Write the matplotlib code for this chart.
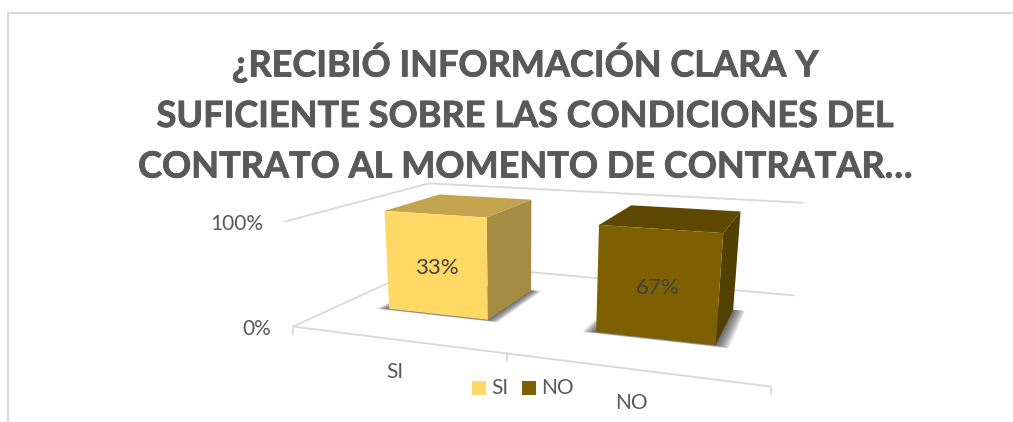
import numpy as np
import matplotlib
matplotlib.use("Agg")
import matplotlib.pyplot as plt
import matplotlib.patheffects as pe
from matplotlib.patches import Polygon, Rectangle

plt.rcParams['font.family'] = ['Lato', 'DejaVu Sans']

title = "¿RECIBIÓ INFORMACIÓN CLARA Y\nSUFICIENTE SOBRE LAS CONDICIONES DEL\nCONTRATO AL MOMENTO DE CONTRATAR…"
categories = ["SI", "NO"]
shares = [33, 67]
bar_heights = [100, 100]
axis_ticks = [0, 100]
front_colors = ["#FFD966", "#7F6000"]
top_colors = ["#C2A54E", "#5E4700"]
side_colors = ["#A68C42", "#524000"]

GRID = "#D9D9D9"
TEXT = "#595959"
BAR_W = 0.25
DEPTH = (0.30, 0.72)

# camera: (category pos, depth, percent) -> pixel, fitted on the chart box corners
box_pts = [(0, 0, 0), (2, 0, 0), (0, 1, 0), (2, 1, 0), (0, 0, 100), (0, 1, 100), (2, 1, 100)]
pix_pts = [(294, 326), (771, 387), (430, 264), (795, 295), (283, 222), (430, 183), (803, 203)]


def fit_camera(box, pix):
    rows = []
    for (u, d, z), (px, py) in zip(box, pix):
        z = z / 100
        rows.append([u, d, z, 1, 0, 0, 0, 0, -px * u, -px * d, -px * z, -px])
        rows.append([0, 0, 0, 0, u, d, z, 1, -py * u, -py * d, -py * z, -py])
    return np.linalg.svd(np.array(rows, dtype=float))[2][-1].reshape(3, 4)


cam = fit_camera(box_pts, pix_pts)


def project(u, d, z=0):
    p = cam @ np.array([u, d, z / 100, 1])
    return p[0] / p[2], p[1] / p[2]


def edge(ax, a, b, lw=1.3):
    ax.plot(*zip(project(*a), project(*b)), color=GRID, lw=lw, zorder=1, solid_capstyle="butt")


def draw_bar(ax, i, height):
    u0, u1 = i + 0.5 - BAR_W, i + 0.5 + BAR_W
    d0, d1 = DEPTH
    # soft shadow on the floor, stacked so it darkens towards the bar
    for grow in np.linspace(0.055, 0.004, 12):
        foot = [project(u0 - grow, d0 - grow * 0.3), project(u1 + grow, d0 - grow * 0.3),
                project(u1 + grow, d1), project(u0 - grow, d1)]
        ax.add_patch(Polygon(foot, closed=True, fc="#303030", ec="none", alpha=0.09, zorder=2))
    top = [project(u0, d0, height), project(u1, d0, height), project(u1, d1, height), project(u0, d1, height)]
    side = [project(u1, d0), project(u1, d1), project(u1, d1, height), project(u1, d0, height)]
    front = [project(u0, d0), project(u1, d0), project(u1, d0, height), project(u0, d0, height)]
    ax.add_patch(Polygon(top, closed=True, fc=top_colors[i], ec="none", zorder=3))
    ax.add_patch(Polygon(side, closed=True, fc=side_colors[i], ec="none", zorder=3))
    ax.add_patch(Polygon(front, closed=True, fc=front_colors[i], ec="none", zorder=4))
    cx, cy = project(i + 0.5, d0, height / 2)
    ax.text(cx + 1, cy + 3, f"{shares[i]}%", ha="center", va="center", fontsize=16, color="#404040", zorder=5)


fig = plt.figure(figsize=(10.13, 4.22), dpi=100)
ax = fig.add_axes([0, 0, 1, 1])
ax.set_xlim(0, 1013)
ax.set_ylim(422, 0)
ax.axis("off")

# chart frame, only left and top are inside the crop
ax.plot([8, 8, 1013], [422, 13, 13], color=GRID, lw=1.5, zorder=1)

# floor and walls
edge(ax, (0, 0), (2, 0))
edge(ax, (0, 0), (0, 1))
edge(ax, (0, 1), (2, 1))
edge(ax, (0, 0, 100), (0, 1, 100))
edge(ax, (0, 1, 100), (2, 1, 100))
for u in range(len(categories) + 1):
    x, y = project(u, 0)
    ax.plot([x, x], [y, y + 7], color=GRID, lw=1.3, zorder=1)

for i, h in enumerate(bar_heights):
    draw_bar(ax, i, h)

for t in axis_ticks:
    x, y = project(0, 0, t)
    ax.text(x - (21 if t else 22), y + 2, f"{t}%", ha="right", va="center", fontsize=15, color=TEXT)

for i, name in enumerate(categories):
    x, y = project(i + 0.5, 0)
    ax.text(x if i == 0 else x, y + 33 if i == 0 else y + 34, name, ha="center", va="center", fontsize=15, color=TEXT)

# legend
legend_x = [472, 522]
for name, color, x in zip(categories, front_colors, legend_x):
    ax.add_patch(Rectangle((x, 381), 14, 14, fc=color, ec="none", zorder=5))
    ax.text(x + 19, 388, name, ha="left", va="center", fontsize=15, color=TEXT, zorder=5)

ax.text(525, 113, title, ha="center", va="center", fontsize=26, fontweight="bold", color=TEXT, linespacing=1.65,
        path_effects=[pe.withStroke(linewidth=0.6, foreground=TEXT)])

fig.savefig("out.png", dpi=100)
